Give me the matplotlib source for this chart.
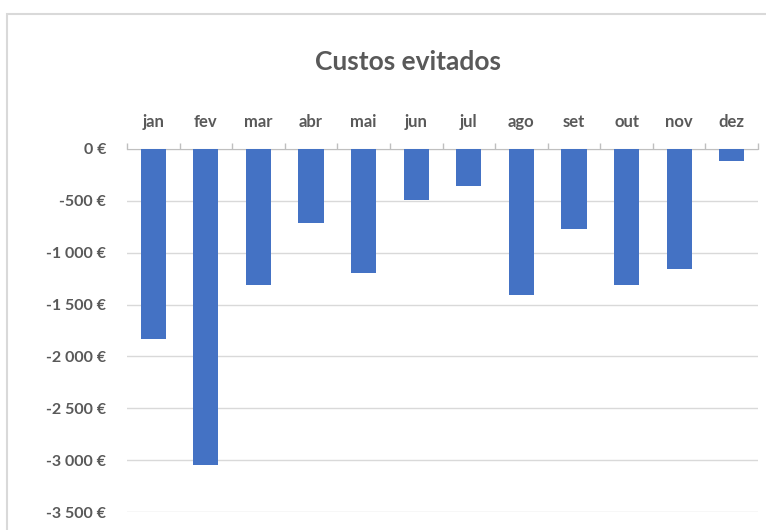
import numpy as np
import matplotlib.pyplot as plt
from matplotlib.patches import Rectangle
from matplotlib.ticker import FuncFormatter

# monthly avoided costs (EUR)
months = ["jan", "fev", "mar", "abr", "mai", "jun", "jul", "ago", "set", "out", "nov", "dez"]
custos = [-1830, -3050, -1315, -710, -1200, -490, -360, -1405, -770, -1315, -1160, -115]
yticks = [0, -500, -1000, -1500, -2000, -2500, -3000, -3500]

def fmt_eur(v, pos=None):
    # thousands separated by a space, euro sign after the number
    return "{:,.0f}".format(v).replace(",", " ") + " €"

plt.rcParams['font.family'] = ['Lato', 'DejaVu Sans']
grey = "#595959"

fig = plt.figure(figsize=(7.66, 5.30), dpi=100)
fig.patches.append(Rectangle((7/766, -0.1), 1.2, 1 - 14/530 + 0.1, transform=fig.transFigure,
                             fill=False, edgecolor="#d9d9d9", linewidth=1.5))

ax = fig.add_axes([127/766, 1 - 512/530, 631/766, 363/530])
x = np.arange(len(months))
ax.bar(x, custos, width=0.48, color="#4472c4", zorder=3)

ax.set_xlim(-0.5, len(months) - 0.5)
ax.set_ylim(-3500, 0)
ax.set_yticks(yticks)
ax.yaxis.set_major_formatter(FuncFormatter(fmt_eur))
ax.grid(axis="y", color="#d9d9d9", linewidth=1, zorder=0)

ax.xaxis.tick_top()
ax.set_xticks(x)
ax.set_xticklabels(months)
ax.set_xticks(np.arange(-0.5, len(months)), minor=True)
ax.tick_params(axis="x", which="major", length=0, pad=14, labelsize=12, labelcolor=grey)
ax.tick_params(axis="x", which="minor", length=4, color="#bfbfbf", width=1)
ax.tick_params(axis="y", length=0, pad=15, labelsize=11.5, labelcolor=grey)
for lbl in ax.get_xticklabels() + ax.get_yticklabels():
    lbl.set_fontweight("bold")

for side in ["left", "right", "bottom"]:
    ax.spines[side].set_visible(False)
ax.spines["top"].set_color("#bfbfbf")

fig.text(408/766, 1 - 62/530, "Custos evitados", ha="center", va="center",
         fontsize=19, fontweight="bold", color=grey)

plt.savefig("out.png", dpi=100)
